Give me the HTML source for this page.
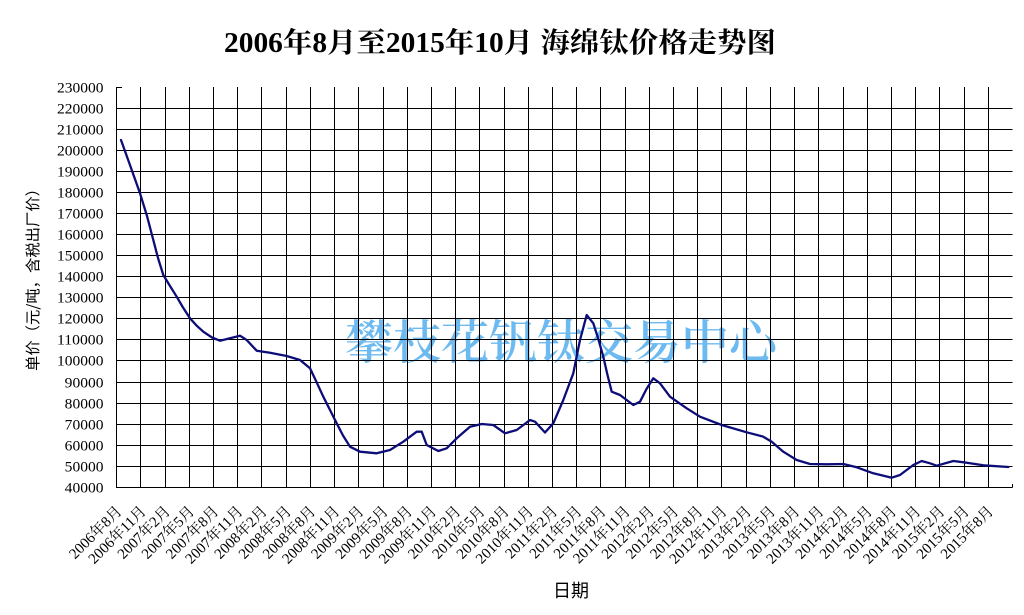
<!DOCTYPE html>
<html>
<head>
<meta charset="utf-8">
<style>
html,body{margin:0;padding:0;background:#fff;}
body{width:1024px;height:615px;overflow:hidden;}
svg{display:block;}
.yl{font-family:"Liberation Serif","Noto Serif CJK SC",serif;font-size:15px;fill:#000;}
.xl{font-family:"Liberation Serif","Noto Serif CJK SC",serif;font-size:15px;fill:#000;}
</style>
</head>
<body>
<svg width="1024" height="615" viewBox="0 0 1024 615" xmlns="http://www.w3.org/2000/svg">
<rect x="0" y="0" width="1024" height="615" fill="#fff"/>

<!-- title -->
<text x="500" y="52" text-anchor="middle" textLength="552" lengthAdjust="spacingAndGlyphs" font-family="'Liberation Serif','Noto Serif CJK SC',serif" font-size="28" font-weight="bold" fill="#000">2006年8月至2015年10月 海绵钛价格走势图</text>

<!-- watermark -->
<text x="345" y="359" textLength="432" lengthAdjust="spacingAndGlyphs" font-family="'Noto Serif CJK SC','Liberation Serif',serif" font-size="47" font-weight="600" fill="#6cbaf0">攀枝花钒钛交易中心</text>

<!-- horizontal gridlines -->
<g stroke="#000" stroke-width="1" fill="none">
<line x1="116.5" y1="87.5" x2="122" y2="87.5"/>
<line x1="116.5" y1="108.5" x2="1012.5" y2="108.5"/>
<line x1="116.5" y1="129.5" x2="1012.5" y2="129.5"/>
<line x1="116.5" y1="150.5" x2="1012.5" y2="150.5"/>
<line x1="116.5" y1="171.5" x2="1012.5" y2="171.5"/>
<line x1="116.5" y1="192.5" x2="1012.5" y2="192.5"/>
<line x1="116.5" y1="213.5" x2="1012.5" y2="213.5"/>
<line x1="116.5" y1="234.5" x2="1012.5" y2="234.5"/>
<line x1="116.5" y1="255.5" x2="1012.5" y2="255.5"/>
<line x1="116.5" y1="276.5" x2="1012.5" y2="276.5"/>
<line x1="116.5" y1="297.5" x2="1012.5" y2="297.5"/>
<line x1="116.5" y1="318.5" x2="1012.5" y2="318.5"/>
<line x1="116.5" y1="339.5" x2="1012.5" y2="339.5"/>
<line x1="116.5" y1="360.5" x2="1012.5" y2="360.5"/>
<line x1="116.5" y1="382.5" x2="1012.5" y2="382.5"/>
<line x1="116.5" y1="403.5" x2="1012.5" y2="403.5"/>
<line x1="116.5" y1="424.5" x2="1012.5" y2="424.5"/>
<line x1="116.5" y1="445.5" x2="1012.5" y2="445.5"/>
<line x1="116.5" y1="466.5" x2="1012.5" y2="466.5"/>
<line x1="116.5" y1="487.5" x2="1012.5" y2="487.5"/>
<line x1="1012.5" y1="484" x2="1012.5" y2="487.5"/>
</g>

<!-- vertical gridlines -->
<g stroke="#000" stroke-width="1" fill="none">
<line x1="116.5" y1="87" x2="116.5" y2="488"/>
<line x1="140.5" y1="87" x2="140.5" y2="488"/>
<line x1="165.5" y1="87" x2="165.5" y2="488"/>
<line x1="189.5" y1="87" x2="189.5" y2="488"/>
<line x1="213.5" y1="87" x2="213.5" y2="488"/>
<line x1="237.5" y1="87" x2="237.5" y2="488"/>
<line x1="261.5" y1="87" x2="261.5" y2="488"/>
<line x1="286.5" y1="87" x2="286.5" y2="488"/>
<line x1="310.5" y1="87" x2="310.5" y2="488"/>
<line x1="334.5" y1="87" x2="334.5" y2="488"/>
<line x1="358.5" y1="87" x2="358.5" y2="488"/>
<line x1="383.5" y1="87" x2="383.5" y2="488"/>
<line x1="407.5" y1="87" x2="407.5" y2="488"/>
<line x1="431.5" y1="87" x2="431.5" y2="488"/>
<line x1="455.5" y1="87" x2="455.5" y2="488"/>
<line x1="479.5" y1="87" x2="479.5" y2="488"/>
<line x1="504.5" y1="87" x2="504.5" y2="488"/>
<line x1="528.5" y1="87" x2="528.5" y2="488"/>
<line x1="552.5" y1="87" x2="552.5" y2="488"/>
<line x1="576.5" y1="87" x2="576.5" y2="488"/>
<line x1="600.5" y1="87" x2="600.5" y2="488"/>
<line x1="625.5" y1="87" x2="625.5" y2="488"/>
<line x1="649.5" y1="87" x2="649.5" y2="488"/>
<line x1="673.5" y1="87" x2="673.5" y2="488"/>
<line x1="697.5" y1="87" x2="697.5" y2="488"/>
<line x1="721.5" y1="87" x2="721.5" y2="488"/>
<line x1="746.5" y1="87" x2="746.5" y2="488"/>
<line x1="770.5" y1="87" x2="770.5" y2="488"/>
<line x1="794.5" y1="87" x2="794.5" y2="488"/>
<line x1="818.5" y1="87" x2="818.5" y2="488"/>
<line x1="843.5" y1="87" x2="843.5" y2="488"/>
<line x1="867.5" y1="87" x2="867.5" y2="488"/>
<line x1="891.5" y1="87" x2="891.5" y2="488"/>
<line x1="915.5" y1="87" x2="915.5" y2="488"/>
<line x1="939.5" y1="87" x2="939.5" y2="488"/>
<line x1="964.5" y1="87" x2="964.5" y2="488"/>
<line x1="988.5" y1="87" x2="988.5" y2="488"/>
</g>

<!-- data line -->
<polyline fill="none" stroke="#0d0d78" stroke-width="2.3" stroke-linejoin="round" stroke-linecap="round"
points="121,140 130.5,166.5 140,193.3 147,216 153.3,240 158,258 163.3,275 170,286 176.7,296.7 183,307.5 190,318.3 196.5,325.5 203.3,331.7 212,337.5 220,340.7 230,338.3 240,335.7 246.7,340 256.7,350.7 270,352.7 286.7,356 300,360 310,368.3 316.5,382 323.3,396.7 330,410 336.7,423.3 343,435.5 350,446.7 360,451.7 376.7,453.3 390,450 403.3,441.7 416.7,431.7 421.7,431.7 426.7,445 438.3,451 446.7,448.3 456.7,438.3 470,426.7 481.7,424 493.3,425 505,433.3 516.7,430 530,420 535,421.7 545,432.5 553.3,423.3 563.3,400 573.3,373.3 580,340 586.7,315 593.3,323.3 598,338 603.3,356.7 607.5,375 611.7,391.7 620,395 633.3,405 640,401.7 646.5,389 653.3,378.3 660,383.3 670,396.7 686.7,408.3 700,416.7 721.7,425 746.7,432.3 763.3,436.7 771.7,441.7 783.3,451.7 796.7,460 810,464 826.7,464.3 843.3,464 856.7,467.3 873.3,473.3 891.7,477.7 900,475 913.3,465 921.7,461 930,463.3 936.7,465.7 953.3,461 966.7,462.7 983.3,465.3 1008.4,467"/>

<!-- y axis labels -->
<g class="yl" text-anchor="end">
<text x="103.5" y="92.5" textLength="46.5" lengthAdjust="spacingAndGlyphs">230000</text>
<text x="103.5" y="113.5" textLength="46.5" lengthAdjust="spacingAndGlyphs">220000</text>
<text x="103.5" y="134.5" textLength="46.5" lengthAdjust="spacingAndGlyphs">210000</text>
<text x="103.5" y="155.5" textLength="46.5" lengthAdjust="spacingAndGlyphs">200000</text>
<text x="103.5" y="176.5" textLength="46.5" lengthAdjust="spacingAndGlyphs">190000</text>
<text x="103.5" y="197.5" textLength="46.5" lengthAdjust="spacingAndGlyphs">180000</text>
<text x="103.5" y="218.5" textLength="46.5" lengthAdjust="spacingAndGlyphs">170000</text>
<text x="103.5" y="239.5" textLength="46.5" lengthAdjust="spacingAndGlyphs">160000</text>
<text x="103.5" y="260.5" textLength="46.5" lengthAdjust="spacingAndGlyphs">150000</text>
<text x="103.5" y="281.5" textLength="46.5" lengthAdjust="spacingAndGlyphs">140000</text>
<text x="103.5" y="302.5" textLength="46.5" lengthAdjust="spacingAndGlyphs">130000</text>
<text x="103.5" y="323.5" textLength="46.5" lengthAdjust="spacingAndGlyphs">120000</text>
<text x="103.5" y="344.5" textLength="46.5" lengthAdjust="spacingAndGlyphs">110000</text>
<text x="103.5" y="365.5" textLength="46.5" lengthAdjust="spacingAndGlyphs">100000</text>
<text x="103.5" y="387.5" textLength="38.8" lengthAdjust="spacingAndGlyphs">90000</text>
<text x="103.5" y="408.5" textLength="38.8" lengthAdjust="spacingAndGlyphs">80000</text>
<text x="103.5" y="429.5" textLength="38.8" lengthAdjust="spacingAndGlyphs">70000</text>
<text x="103.5" y="450.5" textLength="38.8" lengthAdjust="spacingAndGlyphs">60000</text>
<text x="103.5" y="471.5" textLength="38.8" lengthAdjust="spacingAndGlyphs">50000</text>
<text x="103.5" y="492.5" textLength="38.8" lengthAdjust="spacingAndGlyphs">40000</text>
</g>

<!-- y axis title -->
<text transform="translate(38,276) rotate(-90)" text-anchor="middle" textLength="190" lengthAdjust="spacingAndGlyphs" font-family="'Noto Sans CJK SC','Liberation Sans',sans-serif" font-size="15" fill="#000">单价（元/吨，含税出厂价）</text>

<!-- x axis title -->
<text x="571" y="597" text-anchor="middle" font-family="'Noto Sans CJK SC','Liberation Sans',sans-serif" font-size="18" fill="#000">日期</text>

<!-- x axis labels -->
<g class="xl" text-anchor="end">
<text transform="translate(122.7,512) rotate(-45)">2006年8月</text>
<text transform="translate(146.9,512) rotate(-45)">2006年11月</text>
<text transform="translate(171.1,512) rotate(-45)">2007年2月</text>
<text transform="translate(195.3,512) rotate(-45)">2007年5月</text>
<text transform="translate(219.5,512) rotate(-45)">2007年8月</text>
<text transform="translate(243.8,512) rotate(-45)">2007年11月</text>
<text transform="translate(268.0,512) rotate(-45)">2008年2月</text>
<text transform="translate(292.2,512) rotate(-45)">2008年5月</text>
<text transform="translate(316.4,512) rotate(-45)">2008年8月</text>
<text transform="translate(340.6,512) rotate(-45)">2008年11月</text>
<text transform="translate(364.8,512) rotate(-45)">2009年2月</text>
<text transform="translate(389.0,512) rotate(-45)">2009年5月</text>
<text transform="translate(413.2,512) rotate(-45)">2009年8月</text>
<text transform="translate(437.4,512) rotate(-45)">2009年11月</text>
<text transform="translate(461.6,512) rotate(-45)">2010年2月</text>
<text transform="translate(485.9,512) rotate(-45)">2010年5月</text>
<text transform="translate(510.1,512) rotate(-45)">2010年8月</text>
<text transform="translate(534.3,512) rotate(-45)">2010年11月</text>
<text transform="translate(558.5,512) rotate(-45)">2011年2月</text>
<text transform="translate(582.7,512) rotate(-45)">2011年5月</text>
<text transform="translate(606.9,512) rotate(-45)">2011年8月</text>
<text transform="translate(631.1,512) rotate(-45)">2011年11月</text>
<text transform="translate(655.3,512) rotate(-45)">2012年2月</text>
<text transform="translate(679.5,512) rotate(-45)">2012年5月</text>
<text transform="translate(703.7,512) rotate(-45)">2012年8月</text>
<text transform="translate(727.9,512) rotate(-45)">2012年11月</text>
<text transform="translate(752.2,512) rotate(-45)">2013年2月</text>
<text transform="translate(776.4,512) rotate(-45)">2013年5月</text>
<text transform="translate(800.6,512) rotate(-45)">2013年8月</text>
<text transform="translate(824.8,512) rotate(-45)">2013年11月</text>
<text transform="translate(849.0,512) rotate(-45)">2014年2月</text>
<text transform="translate(873.2,512) rotate(-45)">2014年5月</text>
<text transform="translate(897.4,512) rotate(-45)">2014年8月</text>
<text transform="translate(921.6,512) rotate(-45)">2014年11月</text>
<text transform="translate(945.8,512) rotate(-45)">2015年2月</text>
<text transform="translate(970.1,512) rotate(-45)">2015年5月</text>
<text transform="translate(994.3,512) rotate(-45)">2015年8月</text>
</g>
</svg>
</body>
</html>
